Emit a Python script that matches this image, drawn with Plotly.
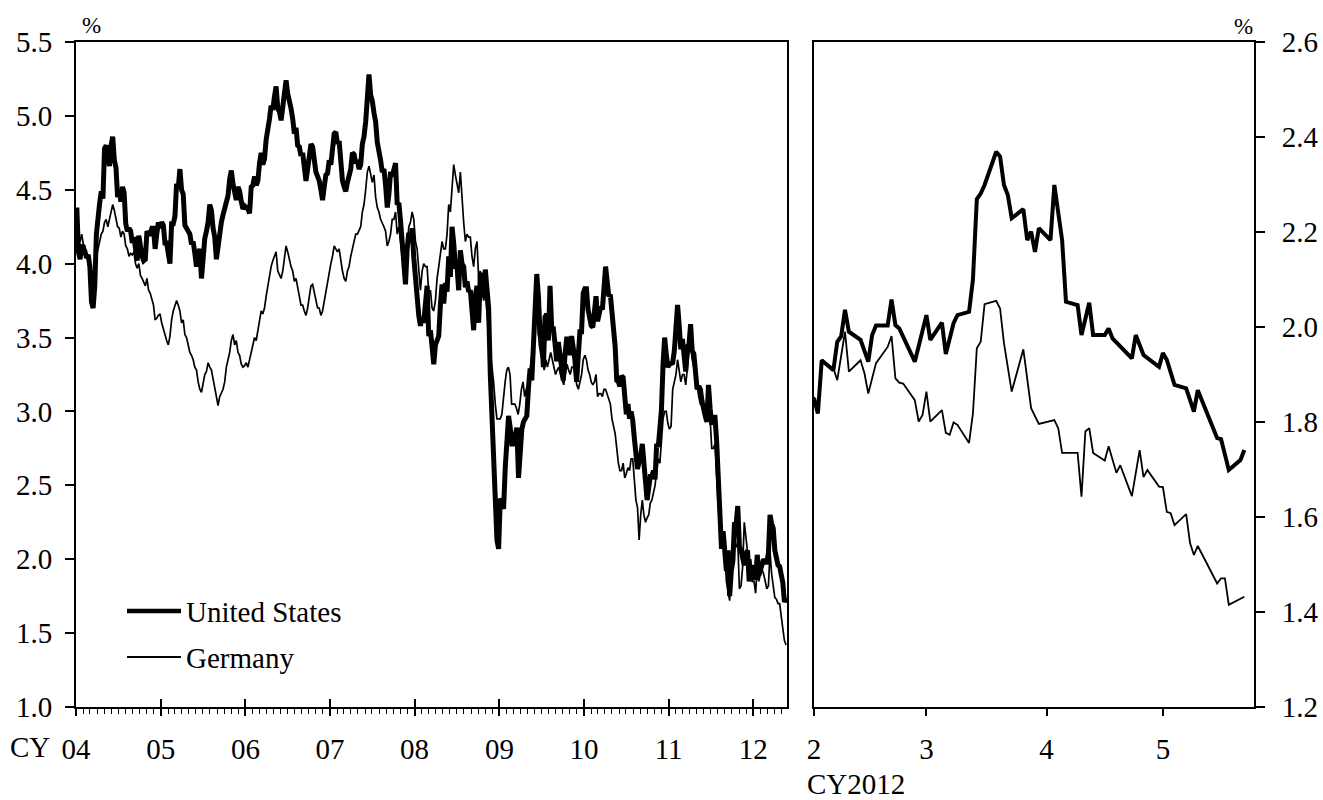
import pandas as pd
import plotly.graph_objects as go

FONT = "Liberation Serif"

# ---------------- Left panel: weekly 10-year yields, 2004 - May 2012 (%) ----------------
US_2004 = [4.38, 4.08, 4.03, 4.13, 4.08, 4.08, 4.04, 4.06, 3.98, 3.74, 3.70, 3.85,
           4.20, 4.34, 4.41, 4.49, 4.44, 4.78, 4.80, 4.73, 4.66, 4.80, 4.86, 4.70, 4.65,
           4.45, 4.50, 4.42, 4.52, 4.48, 4.27, 4.22, 4.24, 4.22, 4.14, 4.18, 4.10, 4.02,
           4.19, 4.08, 4.05, 4.02, 4.03, 4.22, 4.20, 4.20, 4.24, 4.24, 4.10, 4.20, 4.28, 4.24]
US_2005 = [4.28, 4.26, 4.14, 4.14, 4.08, 4.00, 4.27, 4.27, 4.32, 4.54, 4.51, 4.64, 4.50,
           4.47, 4.26, 4.24, 4.21, 4.20, 4.13, 4.15, 4.07, 3.98, 4.06, 4.10, 3.90,
           4.10, 4.17, 4.22, 4.28, 4.40, 4.36, 4.24, 4.18, 4.03, 4.12, 4.25, 4.28, 4.33,
           4.37, 4.44, 4.46, 4.57, 4.63, 4.54, 4.48, 4.43, 4.52, 4.49, 4.42, 4.37, 4.39]
US_2006 = [4.38, 4.37, 4.34, 4.52, 4.53, 4.59, 4.53, 4.56, 4.68, 4.75, 4.67, 4.71, 4.84,
           4.90, 4.98, 5.07, 5.04, 5.13, 5.20, 5.05, 5.03, 4.97, 5.05, 5.14, 5.24,
           5.15, 5.07, 5.05, 4.98, 4.88, 4.92, 4.80, 4.79, 4.73, 4.75, 4.64, 4.56, 4.64,
           4.74, 4.81, 4.79, 4.68, 4.62, 4.59, 4.56, 4.50, 4.43, 4.52, 4.60, 4.61, 4.70]
US_2007 = [4.67, 4.77, 4.88, 4.89, 4.81, 4.83, 4.69, 4.56, 4.52, 4.49, 4.55, 4.60, 4.64,
           4.75, 4.74, 4.68, 4.70, 4.64, 4.67, 4.81, 4.86, 4.96, 5.13, 5.28, 5.14,
           5.10, 5.02, 4.96, 4.82, 4.77, 4.70, 4.62, 4.64, 4.53, 4.38, 4.47, 4.62, 4.59,
           4.64, 4.68, 4.40, 4.41, 4.29, 4.15, 4.08, 3.86, 4.10, 4.21, 4.15, 4.24, 4.04]
US_2008 = [3.88, 3.82, 3.65, 3.58, 3.64, 3.60, 3.77, 3.85, 3.51, 3.55, 3.44, 3.32, 3.45,
           3.48, 3.51, 3.72, 3.86, 3.73, 3.87, 3.81, 4.05, 3.91, 4.25, 4.14, 3.98,
           3.98, 3.82, 4.09, 4.00, 3.98, 3.84, 3.88, 3.81, 3.82, 3.70, 3.55, 3.78, 3.85,
           3.60, 3.93, 3.92, 3.77, 3.96, 3.77, 3.70, 3.25, 2.97, 2.68, 2.57, 2.13, 2.07]
US_2009 = [2.41, 2.39, 2.34, 2.62, 2.84, 2.97, 2.89, 2.78, 2.78, 2.86, 2.89, 2.55, 2.76,
           2.88, 2.93, 2.95, 2.97, 3.16, 3.29, 3.21, 3.46, 3.83, 3.93, 3.78, 3.52,
           3.50, 3.30, 3.64, 3.66, 3.48, 3.85, 3.56, 3.56, 3.46, 3.34, 3.47, 3.40, 3.31,
           3.21, 3.38, 3.49, 3.49, 3.38, 3.51, 3.43, 3.35, 3.20, 3.45, 3.54, 3.54, 3.80]
US_2010 = [3.83, 3.83, 3.69, 3.62, 3.58, 3.57, 3.69, 3.78, 3.61, 3.69, 3.71, 3.69, 3.86,
           3.98, 3.88, 3.78, 3.79, 3.69, 3.54, 3.44, 3.21, 3.20, 3.17, 3.24, 3.23, 3.11,
           2.98, 3.05, 2.95, 3.00, 2.94, 2.82, 2.68, 2.61, 2.66, 2.70, 2.78, 2.61, 2.52,
           2.40, 2.48, 2.56, 2.56, 2.60, 2.54, 2.78, 2.76, 2.87, 3.01, 3.32, 3.50, 3.39, 3.30]
US_2011 = [3.32, 3.33, 3.33, 3.41, 3.64, 3.72, 3.58, 3.42, 3.49, 3.40, 3.27, 3.44,
           3.45, 3.59, 3.41, 3.39, 3.29, 3.15, 3.17, 3.15, 3.07, 2.99, 2.97, 2.93, 3.18,
           3.02, 2.91, 2.96, 2.96, 2.80, 2.56, 2.24, 2.07, 2.19, 1.99, 1.92, 2.06, 1.75, 1.92,
           1.99, 2.25, 2.24, 2.36, 2.09, 2.06, 2.01, 1.96, 2.04, 2.06, 1.85, 1.95, 1.89]
US_2012 = [1.96, 1.86, 2.03, 1.89, 1.93, 1.99, 2.00, 1.98, 1.98, 2.04, 2.30, 2.24, 2.21,
           2.06, 1.99, 1.96, 1.95, 1.88, 1.84, 1.71, 1.74]

DE_2004 = [4.30, 4.15, 4.15, 4.20, 4.13, 4.12, 4.05, 4.02, 3.95, 3.87, 3.95, 3.95,
           4.05, 4.10, 4.15, 4.20, 4.22, 4.28, 4.30, 4.25, 4.30, 4.36, 4.40, 4.36, 4.30,
           4.25, 4.24, 4.18, 4.22, 4.20, 4.12, 4.10, 4.05, 4.07, 4.06, 4.08, 4.00, 3.97,
           4.00, 3.92, 3.90, 3.88, 3.85, 3.90, 3.82, 3.80, 3.75, 3.72, 3.62, 3.63, 3.65, 3.66]
DE_2005 = [3.60, 3.55, 3.52, 3.48, 3.45, 3.51, 3.62, 3.68, 3.72, 3.75, 3.72, 3.68, 3.60,
           3.62, 3.52, 3.50, 3.45, 3.40, 3.38, 3.35, 3.30, 3.28, 3.20, 3.15, 3.13,
           3.18, 3.25, 3.27, 3.33, 3.30, 3.28, 3.22, 3.15, 3.08, 3.04, 3.10, 3.12, 3.15,
           3.20, 3.30, 3.35, 3.40, 3.48, 3.52, 3.45, 3.48, 3.40, 3.38, 3.32, 3.30, 3.31]
DE_2006 = [3.33, 3.30, 3.35, 3.40, 3.45, 3.50, 3.48, 3.55, 3.62, 3.68, 3.66, 3.70, 3.78,
           3.85, 3.93, 3.98, 4.02, 4.05, 4.08, 3.95, 3.92, 3.90, 3.95, 4.05, 4.12,
           4.08, 4.02, 3.98, 3.95, 3.88, 3.90, 3.85, 3.78, 3.72, 3.72, 3.68, 3.65, 3.70,
           3.78, 3.85, 3.86, 3.80, 3.75, 3.70, 3.70, 3.65, 3.68, 3.75, 3.80, 3.88, 3.95]
DE_2007 = [4.00, 4.05, 4.12, 4.10, 4.08, 4.10, 4.02, 3.95, 3.90, 3.88, 3.95, 3.98, 4.05,
           4.10, 4.15, 4.20, 4.20, 4.22, 4.25, 4.35, 4.40, 4.50, 4.62, 4.66, 4.60,
           4.55, 4.60, 4.45, 4.38, 4.35, 4.30, 4.28, 4.25, 4.22, 4.12, 4.15, 4.20, 4.30,
           4.30, 4.35, 4.20, 4.25, 4.15, 4.05, 4.00, 3.92, 4.10, 4.25, 4.28, 4.35, 4.30]
DE_2008 = [4.15, 4.10, 3.95, 3.82, 3.95, 4.00, 3.98, 3.98, 3.80, 3.82, 3.70, 3.68, 3.75,
           3.90, 3.98, 4.05, 4.15, 4.10, 4.10, 4.20, 4.40, 4.35, 4.55, 4.67, 4.60,
           4.55, 4.48, 4.62, 4.42, 4.28, 4.15, 4.20, 4.18, 4.18, 4.05, 3.98, 4.10, 4.15,
           3.90, 3.95, 3.85, 3.75, 3.80, 3.65, 3.55, 3.40, 3.30, 3.20, 3.05, 2.95, 2.95]
DE_2009 = [2.95, 2.98, 3.12, 3.20, 3.28, 3.30, 3.25, 3.05, 3.05, 3.05, 3.02, 2.98, 3.05,
           3.15, 3.20, 3.10, 3.15, 3.18, 3.25, 3.35, 3.40, 3.55, 3.62, 3.60, 3.45, 3.38,
           3.35, 3.28, 3.35, 3.30, 3.35, 3.40, 3.35, 3.30, 3.25, 3.28, 3.30, 3.25, 3.22,
           3.18, 3.25, 3.32, 3.28, 3.25, 3.30, 3.30, 3.25, 3.18, 3.15, 3.20, 3.25, 3.35]
DE_2010 = [3.38, 3.35, 3.28, 3.25, 3.20, 3.18, 3.20, 3.25, 3.10, 3.12, 3.12, 3.10, 3.15,
           3.15, 3.12, 3.08, 3.05, 2.95, 2.90, 2.85, 2.75, 2.65, 2.60, 2.60, 2.65, 2.55,
           2.58, 2.62, 2.60, 2.68, 2.68, 2.55, 2.40, 2.35, 2.13, 2.30, 2.40, 2.30, 2.25,
           2.28, 2.30, 2.38, 2.40, 2.45, 2.50, 2.60, 2.68, 2.65, 2.78, 2.95, 3.00, 3.00, 2.92]
DE_2011 = [2.88, 2.90, 3.15, 3.20, 3.25, 3.35, 3.28, 3.20, 3.25, 3.25, 3.18, 3.30,
           3.40, 3.45, 3.35, 3.30, 3.25, 3.18, 3.10, 3.05, 3.05, 3.00, 3.02, 2.95, 3.08,
           2.95, 2.75, 2.75, 2.78, 2.55, 2.35, 2.25, 2.18, 2.15, 2.05, 1.85, 1.78, 1.72, 1.92,
           1.95, 2.10, 2.08, 2.12, 1.80, 1.82, 1.95, 2.25, 2.15, 2.05, 1.95, 2.00, 1.85]
DE_2012 = [1.85, 1.77, 1.95, 1.85, 1.90, 1.93, 1.90, 1.85, 1.80, 1.82, 2.05, 1.90, 1.80,
           1.74, 1.73, 1.70, 1.70, 1.60, 1.53, 1.45, 1.42]

YEARS = [2004, 2005, 2006, 2007, 2008, 2009, 2010, 2011, 2012]
US_YEARLY = [US_2004, US_2005, US_2006, US_2007, US_2008, US_2009, US_2010, US_2011, US_2012]
DE_YEARLY = [DE_2004, DE_2005, DE_2006, DE_2007, DE_2008, DE_2009, DE_2010, DE_2011, DE_2012]
LAST_OBS_END = "2012-05-25"

# ---------------- Right panel: daily 10-year yields, Feb - May 2012 (%) ----------------
US_DAILY_DATES = ["2012-02-01", "2012-02-02", "2012-02-03", "2012-02-06", "2012-02-07", "2012-02-08",
                  "2012-02-09", "2012-02-10", "2012-02-13", "2012-02-15", "2012-02-16", "2012-02-17",
                  "2012-02-20", "2012-02-21", "2012-02-22", "2012-02-23", "2012-02-27", "2012-02-28",
                  "2012-03-01", "2012-03-02", "2012-03-05", "2012-03-06", "2012-03-08", "2012-03-09",
                  "2012-03-12", "2012-03-13", "2012-03-14", "2012-03-15", "2012-03-16", "2012-03-19",
                  "2012-03-20", "2012-03-21", "2012-03-22", "2012-03-23", "2012-03-26", "2012-03-27",
                  "2012-03-28", "2012-03-29", "2012-03-30", "2012-04-02", "2012-04-03", "2012-04-05",
                  "2012-04-06", "2012-04-09", "2012-04-10", "2012-04-12", "2012-04-13", "2012-04-16",
                  "2012-04-17", "2012-04-18", "2012-04-19", "2012-04-23", "2012-04-24", "2012-04-26",
                  "2012-04-30", "2012-05-01", "2012-05-02", "2012-05-04", "2012-05-07", "2012-05-09",
                  "2012-05-10", "2012-05-15", "2012-05-16", "2012-05-18", "2012-05-21", "2012-05-22"]
US_DAILY = [1.850, 1.818, 1.930, 1.909, 1.969, 1.980,
            2.036, 1.990, 1.973, 1.927, 1.983, 2.003,
            2.003, 2.058, 2.004, 1.997, 1.927, 1.959,
            2.025, 1.973, 2.009, 1.943, 2.008, 2.025,
            2.032, 2.100, 2.269, 2.281, 2.299, 2.369,
            2.359, 2.299, 2.278, 2.229, 2.248, 2.183,
            2.201, 2.158, 2.208, 2.183, 2.299, 2.183,
            2.053, 2.046, 1.983, 2.051, 1.983, 1.983,
            1.997, 1.976, 1.967, 1.934, 1.983, 1.941,
            1.916, 1.945, 1.931, 1.878, 1.871, 1.822,
            1.867, 1.766, 1.764, 1.699, 1.720, 1.741]

DE_DAILY_DATES = ["2012-02-01", "2012-02-02", "2012-02-03", "2012-02-06", "2012-02-07", "2012-02-09",
                  "2012-02-10", "2012-02-13", "2012-02-14", "2012-02-15", "2012-02-17", "2012-02-20",
                  "2012-02-21", "2012-02-22", "2012-02-23", "2012-02-24", "2012-02-27", "2012-02-28",
                  "2012-02-29", "2012-03-01", "2012-03-02", "2012-03-05", "2012-03-06", "2012-03-07",
                  "2012-03-08", "2012-03-09", "2012-03-12", "2012-03-13", "2012-03-14", "2012-03-15",
                  "2012-03-16", "2012-03-19", "2012-03-20", "2012-03-21", "2012-03-23", "2012-03-26",
                  "2012-03-28", "2012-03-30", "2012-04-03", "2012-04-04", "2012-04-05", "2012-04-09",
                  "2012-04-10", "2012-04-11", "2012-04-12", "2012-04-13", "2012-04-16", "2012-04-17",
                  "2012-04-19", "2012-04-20", "2012-04-23", "2012-04-25", "2012-04-26", "2012-04-27",
                  "2012-04-30", "2012-05-01", "2012-05-02", "2012-05-03", "2012-05-04", "2012-05-07",
                  "2012-05-08", "2012-05-09", "2012-05-10", "2012-05-15", "2012-05-16", "2012-05-17",
                  "2012-05-18", "2012-05-21", "2012-05-22"]
DE_DAILY = [1.853, 1.818, 1.930, 1.913, 1.888, 1.990,
            1.906, 1.930, 1.903, 1.860, 1.924, 1.958,
            1.981, 1.892, 1.883, 1.881, 1.846, 1.801,
            1.815, 1.864, 1.801, 1.825, 1.777, 1.773,
            1.799, 1.794, 1.756, 1.818, 1.955, 1.969,
            2.048, 2.055, 2.039, 1.966, 1.864, 1.953,
            1.829, 1.796, 1.804, 1.787, 1.735, 1.735,
            1.643, 1.780, 1.787, 1.735, 1.719, 1.749,
            1.693, 1.709, 1.644, 1.741, 1.684, 1.699,
            1.664, 1.663, 1.611, 1.608, 1.583, 1.606,
            1.545, 1.520, 1.539, 1.460, 1.471, 1.471,
            1.415, 1.427, 1.432]

LEFT_Y_TICKS = [1.0, 1.5, 2.0, 2.5, 3.0, 3.5, 4.0, 4.5, 5.0, 5.5]
RIGHT_Y_TICKS = [1.2, 1.4, 1.6, 1.8, 2.0, 2.2, 2.4, 2.6]
SERIES_NAMES = ["United States", "Germany"]


def weekly_dates(year, n):
    start = pd.Timestamp(f"{year}-01-01")
    end = pd.Timestamp(LAST_OBS_END) if year == YEARS[-1] else pd.Timestamp(f"{year + 1}-01-01")
    step = (end - start) / n
    return [start + step * (i + 0.5) for i in range(n)]


def build(yearly):
    xs, ys = [], []
    for yr, vals in zip(YEARS, yearly):
        xs += weekly_dates(yr, len(vals))
        ys += list(vals)
    return xs, ys


us_x, us_y = build(US_YEARLY)
de_x, de_y = build(DE_YEARLY)

W, H = 1323, 800
def px(x):
    return x / W
def py(y):
    return 1 - y / H

fig = go.Figure()
fig.add_trace(go.Scatter(x=de_x, y=de_y, mode="lines", name=SERIES_NAMES[1],
                         line=dict(color="black", width=1.7), xaxis="x", yaxis="y", showlegend=False))
fig.add_trace(go.Scatter(x=us_x, y=us_y, mode="lines", name=SERIES_NAMES[0],
                         line=dict(color="black", width=5), xaxis="x", yaxis="y", showlegend=False))
fig.add_trace(go.Scatter(x=DE_DAILY_DATES, y=DE_DAILY, mode="lines", name=SERIES_NAMES[1],
                         line=dict(color="black", width=1.8), xaxis="x2", yaxis="y2", showlegend=False))
fig.add_trace(go.Scatter(x=US_DAILY_DATES, y=US_DAILY, mode="lines", name=SERIES_NAMES[0],
                         line=dict(color="black", width=4), xaxis="x2", yaxis="y2", showlegend=False))

tickfont = dict(family=FONT, size=29, color="black")
left_dom = [px(76), px(787.3)]
right_dom = [px(814), px(1254)]
y_dom = [py(707), py(42)]
left_range = ["2004-01-01", "2012-05-27"]

fig.update_layout(
    width=W, height=H,
    margin=dict(l=0, r=0, t=0, b=0),
    paper_bgcolor="white", plot_bgcolor="white",
    font=dict(family=FONT, color="black"),
    xaxis=dict(domain=left_dom, anchor="y", type="date", range=left_range,
               tick0="2004-01-01", dtick="M12", tickformat="%y",
               ticks="outside", ticklen=7, tickwidth=1.5, tickcolor="black",
               minor=dict(dtick="M1", tick0="2004-01-01", ticks="outside", ticklen=5,
                          tickwidth=1.2, tickcolor="black", showgrid=False),
               showline=True, linecolor="black", linewidth=2, mirror=True,
               showgrid=False, zeroline=False, tickfont=tickfont, ticklabelstandoff=8,
               automargin=False),
    xaxis3=dict(overlaying="x", anchor="y", type="date", range=left_range,
                tick0="2004-01-01", dtick="M12", ticks="inside", ticklen=8, tickwidth=1.5,
                tickcolor="black", showticklabels=False, showline=False, showgrid=False,
                zeroline=False, automargin=False),
    yaxis=dict(domain=y_dom, anchor="x", range=[1.0, 5.5], tickvals=LEFT_Y_TICKS,
               tickformat=".1f", ticks="outside", ticklen=9, tickwidth=1.5, tickcolor="black",
               showline=True, linecolor="black", linewidth=2, mirror=True,
               showgrid=False, zeroline=False, tickfont=tickfont, ticklabelstandoff=7,
               automargin=False),
    xaxis2=dict(domain=right_dom, anchor="y2", type="date",
                range=["2012-02-01", "2012-05-24 12:00"],
                tick0="2012-02-01", dtick="M1", tickformat="%-m",
                ticks="outside", ticklen=7, tickwidth=1.5, tickcolor="black",
                showline=True, linecolor="black", linewidth=2, mirror=True,
                showgrid=False, zeroline=False, tickfont=tickfont, ticklabelstandoff=8,
                automargin=False),
    yaxis2=dict(domain=y_dom, anchor="x2", side="right", range=[1.2, 2.6],
                tickvals=RIGHT_Y_TICKS, tickformat=".1f",
                ticks="outside", ticklen=9, tickwidth=1.5, tickcolor="black",
                showline=True, linecolor="black", linewidth=2, mirror=True,
                showgrid=False, zeroline=False, tickfont=tickfont, ticklabelstandoff=11,
                automargin=False),
)

# dummy trace so xaxis3 is rendered
fig.add_trace(go.Scatter(x=[left_range[0]], y=[None], xaxis="x3", yaxis="y",
                         mode="lines", showlegend=False, hoverinfo="skip"))

ann_font = dict(family=FONT, size=29, color="black")
pct_font = dict(family=FONT, size=23, color="black")
annotations = [
    dict(text="%", x=px(91), y=py(25), xref="paper", yref="paper", showarrow=False,
         font=pct_font, xanchor="center", yanchor="middle"),
    dict(text="%", x=px(1243), y=py(27), xref="paper", yref="paper", showarrow=False,
         font=pct_font, xanchor="center", yanchor="middle"),
    dict(text="CY", x=px(30), y=py(747), xref="paper", yref="paper", showarrow=False,
         font=ann_font, xanchor="center", yanchor="middle"),
    dict(text="CY2012", x=px(805), y=py(784), xref="paper", yref="paper", showarrow=False,
         font=ann_font, xanchor="left", yanchor="middle"),
]
legend_rows = [(SERIES_NAMES[0], 611, 4.5), (SERIES_NAMES[1], 657, 1.8)]
shapes = []
for name, yy, w in legend_rows:
    shapes.append(dict(type="line", xref="paper", yref="paper", x0=px(127), x1=px(181),
                       y0=py(yy), y1=py(yy), line=dict(color="black", width=w)))
    annotations.append(dict(text=name, x=px(184), y=py(yy + 1), xref="paper", yref="paper",
                            showarrow=False, font=ann_font, xanchor="left", yanchor="middle"))
fig.update_layout(annotations=annotations, shapes=shapes)

fig.write_html("out.html", config={"displayModeBar": False},
               post_script="document.body.style.margin='0';document.body.style.overflow='hidden';")
